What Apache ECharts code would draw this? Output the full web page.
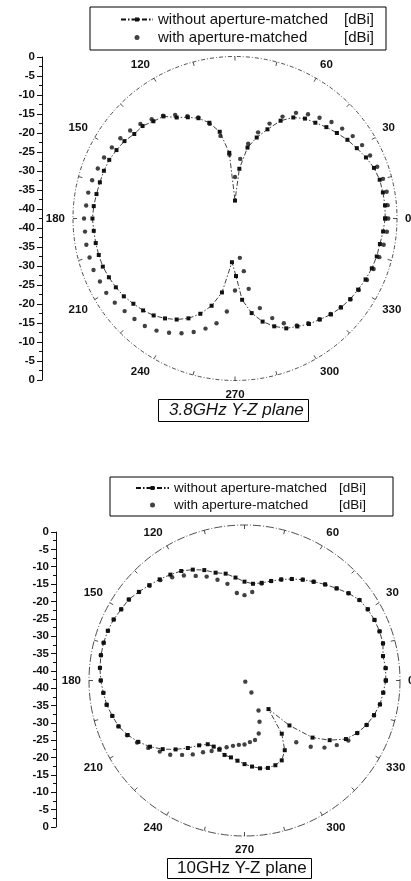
<!DOCTYPE html>
<html><head><meta charset="utf-8">
<script src="https://cdn.jsdelivr.net/npm/echarts@6/dist/echarts.min.js"></script>
<style>html,body{margin:0;padding:0;background:#fff}#c{width:411px;height:881px}</style>
</head><body><div id="c"></div>
<script>
// ---------- tick labels ----------
const rulerLabels = ['0','-5','-10','-15','-20','-25','-30','-35','-40','-40','-35','-30','-25','-20','-15','-10','-5','0'];
const angleLabels = ['0','30','60','','120','150','180','210','240','270','300','330'];
const seriesNames = ['without aperture-matched [dBi]', 'with aperture-matched [dBi]'];
const titles = ['3.8GHz Y-Z plane', '10GHz Y-Z plane'];

// ---------- 3.8 GHz (dBi vs angle, degrees) ----------
const topWithoutDeg = [0,5,10,15,20,25,30,35,40,45,50,55,60,65,70,75,80,85,90,95,100,105,110,115,120,125,130,135,140,145,150,155,160,165,170,175,180,185,190,195,200,205,210,215,220,225,230,235,240,245,250,255,260,266,271,275,280,285,290,295,300,305,310,315,320,325,330,335,340,345,350,355,360];
const topWithoutDb = [-3.1,-3.0,-3.1,-3.2,-3.7,-4.6,-5.6,-6.5,-7.6,-8.6,-9.7,-10.5,-11.9,-14.2,-17.6,-20.5,-23.6,-29.4,-37.8,-25.2,-19.4,-16.5,-14.5,-13.2,-11.9,-9.8,-9.2,-8.2,-8.0,-7.1,-6.6,-6.1,-5.9,-5.8,-5.6,-5.3,-5.1,-5.3,-5.4,-5.5,-5.6,-6.0,-6.4,-6.9,-7.7,-8.4,-9.3,-10.5,-11.9,-13.6,-15.9,-18.8,-22.8,-31.0,-27.4,-21.1,-17.3,-14.5,-12.4,-10.7,-9.8,-8.7,-7.9,-6.9,-6.2,-5.6,-5.2,-4.7,-4.3,-4.0,-3.9,-3.5,-3.1];
const topWithDeg = [0,5,10,15,20,25,30,35,40,45,50,55,60,65,70,75,80,85,90,95,100,105,110,115,120,125,130,135,140,145,150,155,160,165,170,175,180,185,190,195,200,205,210,215,220,225,230,235,240,245,250,255,260,265,270,277,279.5,281,285.5,290.5,295,300,305,310,315,320,325,330,335,340,345,350,355];
const topWithDb = [-2.3,-2.3,-2.1,-2.3,-2.8,-3.4,-4.0,-4.8,-5.8,-6.7,-8.0,-9.1,-10.5,-13.0,-16.0,-19.1,-22.6,-26.8,-31.6,-25.7,-20.5,-16.8,-14.3,-12.9,-11.1,-9.6,-8.5,-7.4,-6.6,-5.8,-5.2,-4.6,-4.2,-3.7,-3.4,-3.3,-2.9,-3.0,-2.9,-3.0,-3.0,-3.4,-3.5,-4.0,-4.7,-5.2,-5.7,-6.6,-7.9,-9.3,-10.8,-12.6,-14.6,-18.0,-23.6,-32.1,-28.5,-23.7,-18.1,-14.6,-12.2,-10.1,-9.0,-8.0,-7.1,-6.3,-5.5,-5.0,-4.3,-3.8,-3.3,-2.9,-2.5];

// ---------- 10 GHz ----------
const botWithoutDeg = [0,5,10,15,20,25,30,35,40,45,50,55,60,65,70,75,80,85,90,95,100,105,110,115,120,125,130,135,140,145,150,155,160,165,170,175,180,185,190,195,200,205,210,215,220,225,230,235,240,245,250,255,260,265,270,275,280,285,290,295,300,305,310,315,320,325,330,335,340,345,350,355,360];
const botWithoutDb = [-4.1,-4.0,-4.3,-3.5,-3.4,-3.5,-3.8,-4.4,-5.7,-7.3,-8.7,-10.1,-11.3,-12.6,-13.9,-15.2,-16.3,-16.9,-16.4,-15.1,-13.6,-12.7,-11.0,-9.6,-8.4,-7.6,-6.8,-6.0,-5.1,-4.1,-3.8,-3.2,-2.9,-2.8,-2.8,-3.0,-3.4,-4.0,-4.5,-5.4,-6.2,-7.7,-9.5,-11.6,-14.1,-16.8,-19.5,-22.1,-23.7,-23.9,-23.7,-22.7,-22.4,-21.7,-20.8,-20.0,-19.2,-18.8,-18.9,-19.5,-21.7,-26.2,-34.2,-26.6,-19.3,-14.9,-11.1,-9.0,-7.4,-6.2,-5.2,-4.7,-4.1];
const botWithDeg = [0,5,10,15,20,25,30,35,40,45,50,55,60,65,70,75,80,85,90,95,100,105,110,115,120,125,130,135,140,145,150,155,160,165,170,175,180,185,190,195,200,205,210,215,220,225,230,235,240,245,250,255,260,265,270,275,280,285,290,295,300,305,310,315,320,325,330,335,340,345,350,355];
const botWithDb = [-4.1,-4.0,-4.3,-3.5,-3.4,-3.5,-3.8,-4.4,-5.7,-7.3,-8.7,-10.1,-11.3,-12.6,-13.9,-15.2,-16.5,-19.3,-20.3,-19.6,-16.6,-14.8,-13.0,-11.6,-9.9,-8.5,-7.1,-6.2,-5.2,-4.2,-3.8,-3.3,-3.0,-2.8,-2.8,-3.0,-3.4,-4.0,-4.5,-5.4,-6.2,-7.5,-9.1,-11.0,-13.0,-14.6,-16.9,-18.9,-21.0,-22.5,-24.0,-25.0,-25.8,-26.3,-26.5,-27.1,-27.5,-29.1,-32.3,-35.4,-41.0,-44.6,-21.7,-17.9,-14.8,-12.4,-10.3,-9.0,-7.4,-6.2,-5.2,-4.7];

const FONT = 'Liberation Sans, Arial, sans-serif';
const INK = '#111';
const pairs = (db, deg) => db.map((v, i) => [v, deg[i]]);

function angleAxis(idx, dash) {
  return {
    polarIndex: idx, type: 'value', min: 0, max: 360, interval: 15,
    startAngle: 0, clockwise: false,
    axisLine: { show: true, lineStyle: { color: '#222', width: 0.8, type: dash } },
    axisTick: { show: true, inside: true, length: 4, lineStyle: { color: '#222', width: 0.8 } },
    axisLabel: {
      margin: 8, fontSize: 11.5, fontWeight: 'bold', color: INK, fontFamily: FONT,
      formatter: v => (v % 30 === 0 && v < 360) ? angleLabels[v / 30] : ''
    },
    splitLine: { show: false }
  };
}
function radiusAxis(idx, min, max) {
  return {
    polarIndex: idx, type: 'value', min: min, max: max,
    axisLine: { show: false }, axisTick: { show: false },
    axisLabel: { show: false }, splitLine: { show: false }
  };
}
function ruler(idx) {
  return {
    gridIndex: idx, type: 'value', min: 0, max: 85, interval: 5, inverse: true,
    axisLine: { show: true, lineStyle: { color: INK, width: 1 } },
    axisTick: { show: true, length: 5, lineStyle: { color: INK, width: 1 } },
    minorTick: { show: true, splitNumber: 2, length: 3, lineStyle: { color: INK, width: 1 } },
    splitLine: { show: false },
    axisLabel: { margin: 7, fontSize: 11.5, fontWeight: 'bold', color: INK, fontFamily: FONT,
      formatter: v => rulerLabels[Math.round(v / 5)] }
  };
}
function legend(left, top, fs, lh, aw, iw, pad) {
  return {
    left: left, top: top, orient: 'vertical', selectedMode: false,
    data: [{ name: seriesNames[0] }, { name: seriesNames[1], icon: 'circle' }],
    itemWidth: iw, itemHeight: 5, itemGap: 3, padding: pad,
    borderColor: '#000', borderWidth: 1, backgroundColor: '#fff',
    formatter: n => '{a|' + n.replace(' [dBi]', '') + '}{b|[dBi]}',
    textStyle: { fontFamily: FONT, fontSize: fs, color: INK, lineHeight: lh,
      rich: { a: { width: aw, fontSize: fs, lineHeight: lh, fontFamily: FONT, color: INK },
              b: { fontSize: fs, lineHeight: lh, fontFamily: FONT, color: INK } } }
  };
}
function lineSeries(idx, db, deg) {
  return { name: seriesNames[0], type: 'line', coordinateSystem: 'polar', polarIndex: idx,
    data: pairs(db, deg), symbol: 'rect', symbolSize: 4, showSymbol: true, showAllSymbol: true,
    lineStyle: { color: INK, width: 0.8, type: [5, 2, 1.5, 2] }, itemStyle: { color: INK },
    z: 3, silent: true };
}
function dotSeries(idx, db, deg) {
  return { name: seriesNames[1], type: 'scatter', coordinateSystem: 'polar', polarIndex: idx,
    data: pairs(db, deg), symbol: 'circle', symbolSize: 4.4, itemStyle: { color: INK }, z: 4, silent: true };
}

const chart = echarts.init(document.getElementById('c'), null, { renderer: 'canvas' });
chart.setOption({
  animation: false,
  backgroundColor: '#fff',
  title: [
    { text: titles[0], left: 158, top: 399, padding: [2, 5, 2, 11], borderColor: '#000', borderWidth: 1,
      textStyle: { fontFamily: FONT, fontSize: 17, fontStyle: 'italic', fontWeight: 'normal', color: INK, lineHeight: 19 } },
    { text: titles[1], left: 167, top: 858, padding: [1, 5, 1, 10], borderColor: '#000', borderWidth: 1,
      textStyle: { fontFamily: FONT, fontSize: 17, fontWeight: 'normal', color: INK, lineHeight: 19 } }
  ],
  legend: [
    legend(90, 7, 15, 15, 186, 32, [5, 12, 5, 30]),
    legend(110, 477, 13.5, 14, 165, 33, [4, 27, 4, 25])
  ],
  polar: [
    { center: [235, 218.5], radius: 162 },
    { center: [244.5, 680.5], radius: 155.5 }
  ],
  angleAxis: [angleAxis(0, [4, 2, 1, 2]), angleAxis(1, [8, 2, 1, 2])],
  radiusAxis: [radiusAxis(0, -42.5, 0), radiusAxis(1, -45, 0)],
  grid: [
    { left: 42, top: 57, height: 323, width: 10 },
    { left: 56, top: 532, height: 295, width: 10 }
  ],
  xAxis: [
    { gridIndex: 0, type: 'value', show: false },
    { gridIndex: 1, type: 'value', show: false }
  ],
  yAxis: [ruler(0), ruler(1)],
  series: [
    lineSeries(0, topWithoutDb, topWithoutDeg),
    dotSeries(0, topWithDb, topWithDeg),
    lineSeries(1, botWithoutDb, botWithoutDeg),
    dotSeries(1, botWithDb, botWithDeg)
  ]
});
</script></body></html>
